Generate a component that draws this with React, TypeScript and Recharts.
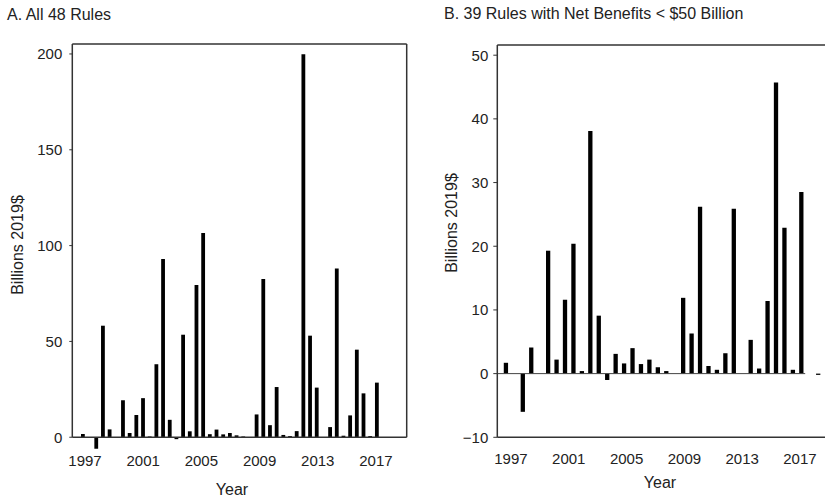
import { BarChart, Bar, XAxis, YAxis, ReferenceLine } from "recharts"

// net benefits of each rule, billions of 2019$, in rule order
const netBenefits = [
  1.7, 0, -6.0, 58.2, 4.1, 0, 19.3, 2.2, 11.6, 20.4, 0.4, 38.1,
  93.0, 9.1, -1.0, 53.5, 3.1, 79.4, 106.6, 1.6, 4.0, 1.5, 2.2, 1.0,
  0.4, 0, 11.9, 82.6, 6.3, 26.2, 1.2, 0.6, 3.2, 199.8, 53.0, 25.9,
  0, 5.3, 88.1, 0.8, 11.4, 45.7, 22.9, 0.6, 28.5, 0, -0.2, 0,
]
const cutoff = 50

const yearLabels = ["1997", "2001", "2005", "2009", "2013", "2017"]
// where the year labels sit along each row of bars (bar slots)
const yearSlotsA = [0.25, 8.96, 17.67, 26.38, 35.09, 43.8]
const yearSlotsB = [0.59, 7.44, 14.29, 21.14, 27.99, 34.83]

const ticksA = [0, 50, 100, 150, 200]
const ticksB = [-10, 0, 10, 20, 30, 40, 50]

const dataA = netBenefits.map((value, slot) => ({ slot, value }))
const dataB = netBenefits
  .filter((v) => v < cutoff)
  .map((value, slot) => ({ slot, value }))

const font = '"Liberation Sans", Arial, sans-serif'
const ink = "#222"
const frame = "#333"

const tickStyle = { fill: ink, fontSize: 15 }

function Title({ x, y, children }: { x: number; y: number; children: string }) {
  return (
    <div style={{ position: "absolute", left: x, top: y, fontSize: 16, lineHeight: "16px", color: ink, whiteSpace: "nowrap" }}>
      {children}
    </div>
  )
}

function AxisTitle({ cx, cy, rotate, children }: { cx: number; cy: number; rotate?: boolean; children: string }) {
  return (
    <div
      style={{
        position: "absolute",
        left: cx,
        top: cy,
        fontSize: 16,
        lineHeight: "16px",
        color: ink,
        whiteSpace: "nowrap",
        transform: `translate(-50%, -50%)${rotate ? " rotate(-90deg)" : ""}`,
      }}
    >
      {children}
    </div>
  )
}

export default function App() {
  const xA: [number, number] = [-1.65, 48.4]
  const yA: [number, number] = [-6.5, 205.2]
  const xB: [number, number] = [-1.03, 39.1]
  const yB: [number, number] = [-10, 51.6]

  return (
    <div style={{ position: "absolute", left: 0, top: 0, width: 825, height: 500, overflow: "hidden", background: "#fff", fontFamily: font }}>
      <Title x={7} y={6.5}>A. All 48 Rules</Title>
      <Title x={444} y={5.5}>{"B. 39 Rules with Net Benefits < $50 Billion"}</Title>

      <div style={{ position: "absolute", left: 0, top: 0 }}>
        <BarChart width={420} height={500} data={dataA} margin={{ top: 44, right: 13.3, bottom: 0, left: 0 }}>
          <XAxis
            type="number"
            dataKey="slot"
            domain={xA}
            ticks={yearSlotsA}
            interval={0}
            tickFormatter={(v: number) => yearLabels[yearSlotsA.indexOf(v)]}
            axisLine={false}
            tickLine={false}
            tickSize={0}
            tickMargin={5.3}
            height={50.3}
            tick={tickStyle}
          />
          <YAxis
            type="number"
            domain={yA}
            ticks={ticksA}
            interval={0}
            width={72.3}
            axisLine={false}
            tickLine={{ stroke: frame }}
            tickSize={3}
            tickMargin={7}
            tick={tickStyle}
          />
          <Bar dataKey="value" fill="#000" barSize={3.8} isAnimationActive={false} />
          <ReferenceLine y={yA[1]} stroke={frame} strokeWidth={1.5} ifOverflow="visible" />
          <ReferenceLine y={0} stroke={frame} strokeWidth={1.5} ifOverflow="visible" />
          <ReferenceLine segment={[{ x: xA[0], y: 0 }, { x: xA[0], y: yA[1] }]} stroke={frame} strokeWidth={1.5} ifOverflow="visible" />
          <ReferenceLine segment={[{ x: xA[1], y: 0 }, { x: xA[1], y: yA[1] }]} stroke={frame} strokeWidth={1.5} ifOverflow="visible" />
        </BarChart>
      </div>

      <div style={{ position: "absolute", left: 425, top: 0 }}>
        <BarChart width={420} height={500} data={dataB} margin={{ top: 45, right: 9, bottom: 0, left: 0 }}>
          <XAxis
            type="number"
            dataKey="slot"
            domain={xB}
            ticks={yearSlotsB}
            interval={0}
            tickFormatter={(v: number) => yearLabels[yearSlotsB.indexOf(v)]}
            axisLine={{ stroke: frame, strokeWidth: 1.5 }}
            tickLine={false}
            tickSize={0}
            tickMargin={16}
            height={62.7}
            tick={tickStyle}
          />
          <YAxis
            type="number"
            domain={yB}
            ticks={ticksB}
            interval={0}
            width={72.3}
            axisLine={{ stroke: frame, strokeWidth: 1.5 }}
            tickLine={{ stroke: frame }}
            tickSize={4}
            tickMargin={5}
            tickFormatter={(v: number) => String(v).replace("-", "\u2212")}
            tick={tickStyle}
          />
          <Bar dataKey="value" fill="#000" barSize={4.3} isAnimationActive={false} />
          <ReferenceLine y={yB[1]} stroke={frame} strokeWidth={1.5} ifOverflow="visible" />
          <ReferenceLine x={xB[1]} stroke={frame} strokeWidth={1.5} ifOverflow="visible" />
          <ReferenceLine segment={[{ x: xB[0], y: 0 }, { x: 35.45, y: 0 }]} stroke="#444" strokeWidth={1} ifOverflow="visible" />
        </BarChart>
      </div>

      <AxisTitle cx={232} cy={490}>Year</AxisTitle>
      <AxisTitle cx={660} cy={483}>Year</AxisTitle>
      <AxisTitle cx={18} cy={245} rotate>Billions 2019$</AxisTitle>
      <AxisTitle cx={452} cy={223} rotate>Billions 2019$</AxisTitle>
    </div>
  )
}
